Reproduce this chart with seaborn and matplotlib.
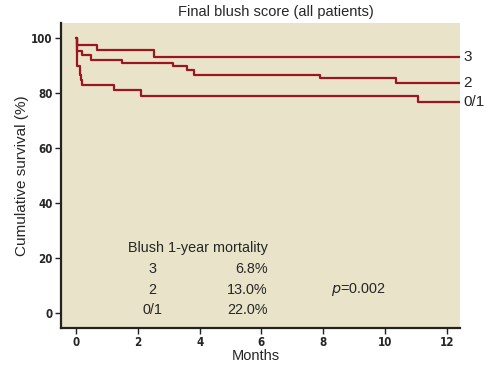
import pandas as pd
import matplotlib.pyplot as plt
import seaborn as sns

# Kaplan-Meier step values (months, cumulative survival %)
times_3 = [0.0, 0.03, 0.67, 2.51, 12.45]
surv_3 = [100.0, 97.5, 95.6, 93.0, 93.0]

times_2 = [0.0, 0.03, 0.19, 0.47, 1.50, 3.14, 3.58, 3.81, 7.90, 10.35, 12.45]
surv_2 = [100.0, 95.4, 93.9, 92.1, 90.9, 90.0, 88.3, 86.5, 85.6, 83.5, 83.5]

times_01 = [0.0, 0.03, 0.11, 0.16, 0.19, 1.22, 2.09, 11.08, 12.45]
surv_01 = [100.0, 89.8, 86.5, 84.7, 82.9, 81.1, 78.9, 76.6, 76.6]

groups = ['3', '2', '0/1']
mortality = ['6.8%', '13.0%', '22.0%']
p_value = '0.002'

x_ticks = [0, 2, 4, 6, 8, 10, 12]
y_ticks = [0, 20, 40, 60, 80, 100]

line_color = '#9b1620'
bg_color = '#e9e4c9'


def build_frame():
    parts = []
    for name, t, s in [('3', times_3, surv_3), ('2', times_2, surv_2), ('0/1', times_01, surv_01)]:
        parts.append(pd.DataFrame({'Months': t, 'Survival': s, 'Blush': name}))
    return pd.concat(parts, ignore_index=True)


def plot_km(data):
    sns.set_style('white')
    plt.rcParams['font.family'] = ['Liberation Sans', 'DejaVu Sans']

    fig = plt.figure(figsize=(5.02, 3.66), dpi=100)
    ax = fig.add_axes([61 / 502, 1 - 328 / 366, 399 / 502, 305 / 366])
    ax.set_facecolor(bg_color)

    sns.lineplot(data=data, x='Months', y='Survival', units='Blush', estimator=None,
                 drawstyle='steps-post', color=line_color, linewidth=1.6, ax=ax,
                 legend=False, sort=False)

    ax.set_xlim(-0.49, 12.43)
    ax.set_ylim(-5.5, 105.5)
    ax.set_xticks(x_ticks)
    ax.set_yticks(y_ticks)
    tick_font = {'family': 'DejaVu Sans', 'stretch': 'condensed', 'size': 8.3, 'weight': 'bold'}
    ax.set_xticklabels([str(v) for v in x_ticks], fontdict=tick_font)
    ax.set_yticklabels([str(v) for v in y_ticks], fontdict=tick_font)
    ax.tick_params(axis='both', direction='out', length=4, width=1, color='#222222',
                   pad=2, bottom=True, left=True)

    for side in ['top', 'right']:
        ax.spines[side].set_visible(False)
    for side in ['left', 'bottom']:
        ax.spines[side].set_color('#222222')
        ax.spines[side].set_linewidth(1.6)

    ax.set_xlabel('Months', fontsize=10.5, labelpad=0)
    ax.xaxis.set_label_coords(0.487, -0.07)
    ax.set_ylabel('Cumulative survival (%)', fontsize=11)
    ax.yaxis.set_label_coords(-0.08, 0.5)
    fig.text(276 / 502, 1 - 12 / 366, 'Final blush score (all patients)',
             ha='center', va='center', fontsize=10.5)

    # group labels at the end of each curve
    for name, s in zip(groups, [surv_3[-1], surv_2[-1], surv_01[-1]]):
        ax.annotate(name, xy=(1.008, s), xycoords=('axes fraction', 'data'),
                    va='center', ha='left', fontsize=11, annotation_clip=False)

    # mortality table inside the plot
    ax.text(1.68, 23.6, 'Blush 1-year mortality', ha='left', va='center', fontsize=10.4)
    row_y = [16.0, 8.4, 1.1]
    for name, m, yy in zip(groups, mortality, row_y):
        ax.text(2.46, yy, name, ha='center', va='center', fontsize=10.4)
        ax.text(6.21, yy, m, ha='right', va='center', fontsize=10.4)
    ax.text(8.25, 8.4, r'$\it{p}$' + '=' + p_value, ha='left', va='center', fontsize=10.4)

    fig.savefig('out.png', dpi=100)


if __name__ == '__main__':
    plot_km(build_frame())
